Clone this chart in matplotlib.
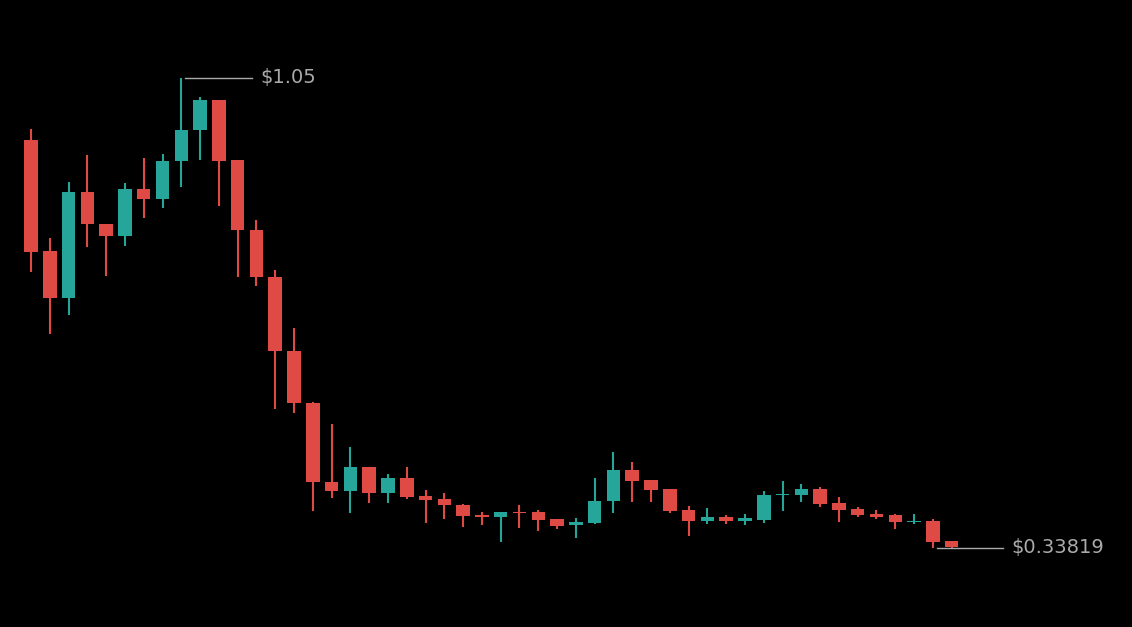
import matplotlib
matplotlib.use("Agg")
import matplotlib.pyplot as plt

opens = [.9561,.7880,.7168,.8773,.8289,.8107,.8819,.8667,.9243,.9712,1.0166,.9258,.8198,.7486,.6365,.5578,.4381,.4245,.4608,.4215,.4442,.4169,.4124,.4033,.3881,.3851,.3927,.3927,.3821,.3730,.3760,.4093,.4563,.4411,.4275,.3957,.3790,.3851,.3790,.3806,.4184,.4184,.4275,.4063,.3972,.3896,.3881,.3775,.3790,.3488]
closes = [.7864,.7168,.8773,.8289,.8107,.8819,.8667,.9243,.9712,1.0166,.9243,.8198,.7486,.6365,.5578,.4381,.4245,.4608,.4215,.4442,.4154,.4108,.4033,.3866,.3851,.3927,.3912,.3806,.3715,.3775,.4093,.4563,.4396,.4260,.3942,.3790,.3851,.3790,.3836,.4184,.4199,.4275,.4048,.3957,.3881,.3851,.3775,.3790,.3472,.3397]
highs = [.9727,.8076,.8925,.9334,.8289,.8909,.9288,.9349,1.05,1.0212,1.0166,.9258,.8349,.7592,.6713,.5593,.5260,.4911,.4608,.4502,.4608,.4260,.4215,.4048,.3927,.3927,.4033,.3957,.3821,.3836,.4442,.4835,.4684,.4411,.4275,.4018,.3987,.3881,.3896,.4245,.4396,.4351,.4306,.4154,.4002,.3957,.3896,.3896,.3821,.3488]
lows = [.7562,.6623,.6910,.7940,.7501,.7955,.8379,.8531,.8849,.9258,.8561,.7486,.7350,.5487,.5426,.3942,.4139,.3912,.4063,.4063,.4124,.3760,.3821,.3700,.3730,.3472,.3684,.3639,.3669,.3533,.3745,.3912,.4078,.4078,.3912,.3563,.3745,.3745,.3730,.3760,.3942,.4078,.4002,.3775,.3851,.3821,.3669,.3745,.33819,.33819]
max_label = "$1.05"
min_label = "$0.33819"

GREEN = "#26a69a"
RED = "#e04a45"

fig = plt.figure(figsize=(11.32, 6.27), dpi=100, facecolor="black")
ax = fig.add_axes([0, 0, 1, 1], facecolor="black")
for i, (o, c, h, l) in enumerate(zip(opens, closes, highs, lows)):
    col = GREEN if c >= o else RED
    ax.vlines(i, l, h, color=col, linewidth=1.5, zorder=1)
    ax.bar(i, abs(c - o) if abs(c - o) > 0.002 else 0.002, bottom=min(o, c),
           width=0.72, color=col, zorder=2)

imax = max(range(len(highs)), key=lambda k: highs[k])
lmin = min(lows)
imin = max(k for k in range(len(lows)) if lows[k] == lmin)
hmax = highs[imax]
ax.plot([imax + 0.2, imax + 3.77], [hmax, hmax], color="#aaaaaa", lw=1)
ax.text(imax + 4.2, hmax, max_label, color="#aaaaaa", fontsize=14, va="center")
ax.plot([imin - 0.76, imin + 2.76], [lmin, lmin], color="#aaaaaa", lw=1)
ax.text(imin + 3.2, lmin, min_label, color="#aaaaaa", fontsize=14, va="center")

ax.set_xlim(-1.65, 58.6)
ax.set_ylim(0.2185, 1.1681)
ax.axis("off")
fig.savefig("out.png", dpi=100, facecolor="black")
